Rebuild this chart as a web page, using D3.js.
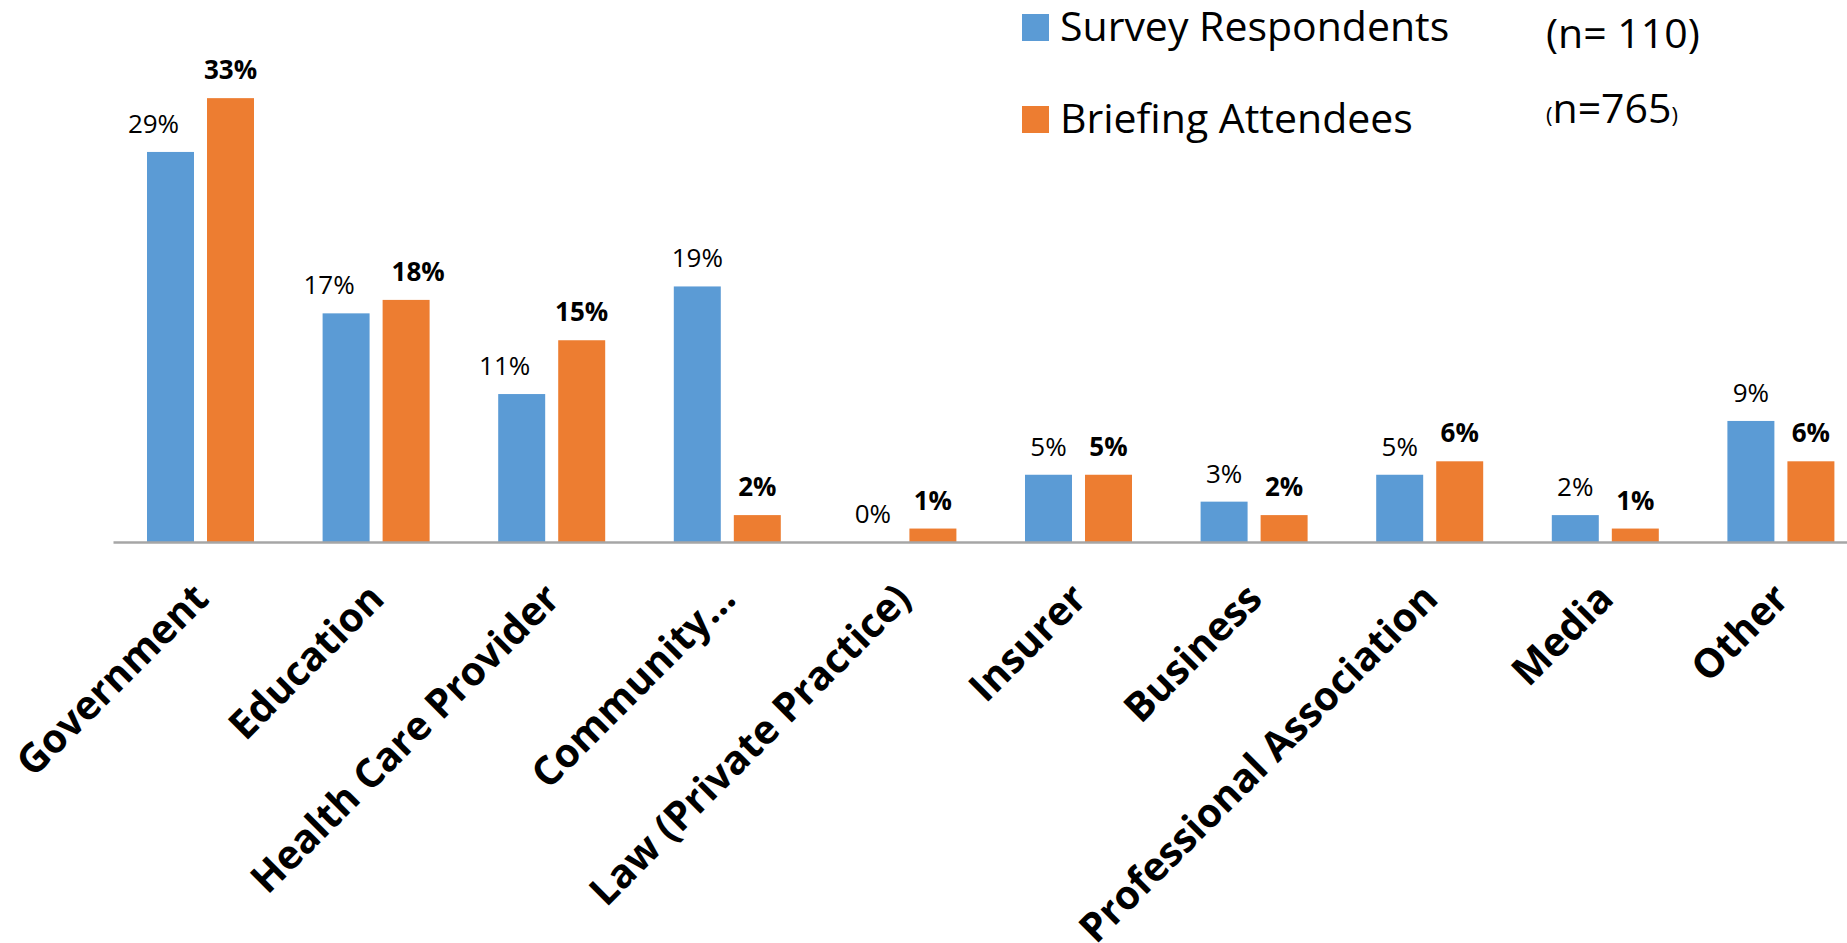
<!DOCTYPE html>
<html>
<head>
<meta charset="utf-8">
<script src="https://cdn.jsdelivr.net/npm/d3@7"></script>
<style>
  body { margin: 0; background: #fff; }
  svg { display: block; }
</style>
</head>
<body>
<script>
// chart data
const categories = ["Government", "Education", "Health Care Provider", "Community\u2026",
  "Law (Private Practice)", "Insurer", "Business", "Professional Association", "Media", "Other"]
const surveyValues = [29, 17, 11, 19, 0, 5, 3, 5, 2, 9]
const briefingValues = [33, 18, 15, 2, 1, 5, 2, 6, 1, 6]
const seriesNames = ["Survey Respondents", "Briefing Attendees"]
const seriesCounts = ["(n= 110)", "n=765"]

var w = 1847
var h = 943
var baseY = 542
var colors = ["#5b9bd5", "#ed7d31"]
var font = "'Open Sans', sans-serif"

var data = categories.map((c, i) => ({ cat: c, vals: [surveyValues[i], briefingValues[i]] }))

var svg = d3.select("body")
            .append("svg")
            .attr("width", w)
            .attr("height", h)

// x scale for groups, chart runs past the right edge like the original
const x0 = d3.scaleBand()
  .domain(categories)
  .range([113, 113 + 175.6 * categories.length])

const x1 = d3.scaleBand()
  .domain([0, 1])
  .range([34, 141])
  .paddingInner(0.217)

const yScale = d3.scaleLinear()
  .domain([0, 35])
  .range([baseY, baseY - 35 * 13.45])

var groups = svg.selectAll("g.group")
  .data(data)
  .enter()
  .append("g")
  .attr("class", "group")
  .attr("transform", d => "translate(" + x0(d.cat) + ",0)")

groups.selectAll("rect")
  .data(d => d.vals)
  .enter()
  .append("rect")
  .attr("x", (d, i) => x1(i))
  .attr("y", d => yScale(d))
  .attr("width", x1.bandwidth())
  .attr("height", d => baseY - yScale(d))
  .attr("fill", (d, i) => colors[i])

// nudge labels apart when the pair sits close together (like excel did)
function labelShift(vals, i) {
  var a = vals[0], b = vals[1]
  if (a < 10) return 0
  if (i == 0 && b > a) return -17
  if (i == 1 && b - a == 1) return 12
  return 0
}

// value labels, briefing ones are bold
groups.each(function (g) {
  d3.select(this).selectAll("text.val")
    .data(g.vals)
    .enter()
    .append("text")
    .attr("class", "val")
    .attr("x", (d, i) => x1(i) + x1.bandwidth() / 2 + labelShift(g.vals, i))
    .attr("y", d => yScale(d) - 19)
    .attr("text-anchor", "middle")
    .style("font-family", font)
    .style("font-size", "26px")
    .style("font-weight", (d, i) => i == 1 ? "bold" : "normal")
    .text(d => d + "%")
})

// x axis
const xAxis = d3.axisBottom(x0).tickSize(0).tickPadding(0)
var ax = svg.append("g")
  .attr("id", "x-axis")
  .attr("transform", "translate(0," + baseY + ")")
  .call(xAxis)

ax.select(".domain").attr("stroke", "#a6a6a6").attr("stroke-width", 2.5)

ax.selectAll(".tick text")
  .attr("text-anchor", "end")
  .attr("dy", 0)
  .attr("y", 0)
  .attr("transform", "translate(10,59) rotate(-45)")
  .style("font-family", font)
  .style("font-weight", "bold")
  .style("font-size", "40px")
  .attr("fill", "#000")

// legend
var legend = svg.append("g").attr("id", "legend")
var legY = [27, 119]
seriesNames.forEach((name, i) => {
  legend.append("rect")
    .attr("x", 1022)
    .attr("y", legY[i] - 13)
    .attr("width", 27)
    .attr("height", 27)
    .attr("fill", colors[i])
  legend.append("text")
    .attr("x", 1060)
    .attr("y", legY[i] + 14)
    .style("font-family", font)
    .style("font-size", "41px")
    .text(name)
})

legend.append("text")
  .attr("x", 1546)
  .attr("y", 48)
  .style("font-family", font)
  .style("font-size", "41px")
  .text(seriesCounts[0])

var n2 = legend.append("text")
  .attr("x", 1546)
  .attr("y", 123)
  .style("font-family", font)
n2.append("tspan").style("font-size", "22px").text("(")
n2.append("tspan").style("font-size", "41px").text(seriesCounts[1])
n2.append("tspan").style("font-size", "22px").text(")")
</script>
</body>
</html>
